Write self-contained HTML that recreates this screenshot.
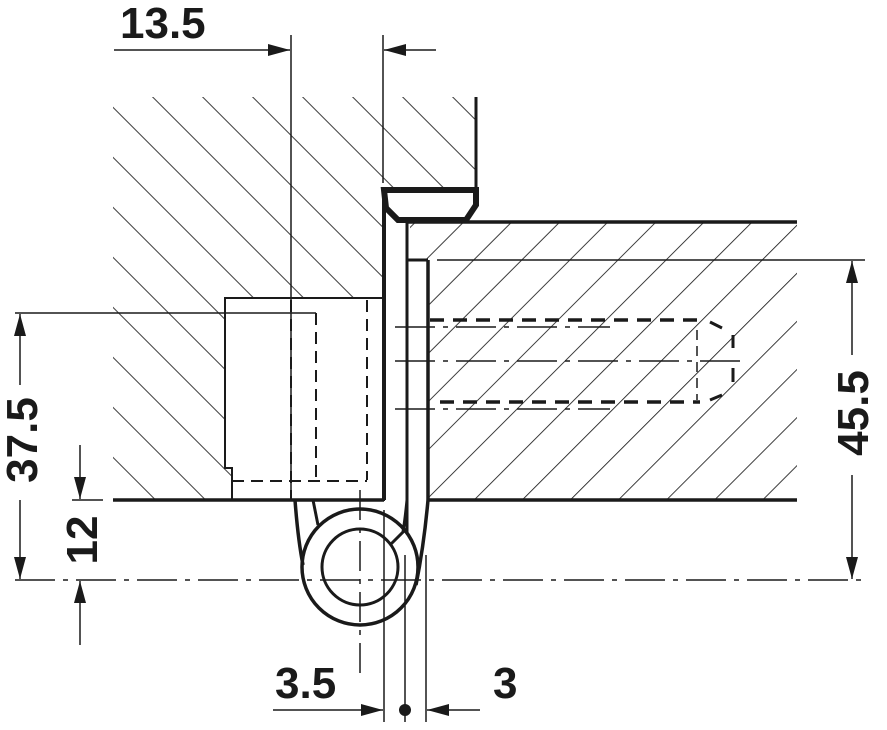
<!DOCTYPE html>
<html><head><meta charset="utf-8"><style>
html,body{margin:0;padding:0;background:#fff;}
svg{display:block;}
text{font-family:"Liberation Sans",sans-serif;font-weight:bold;fill:#1a1a1a;}
</style></head><body>
<svg width="887" height="730" viewBox="0 0 887 730" xmlns="http://www.w3.org/2000/svg">
<defs>
<pattern id="h1" patternUnits="userSpaceOnUse" width="35.36" height="35.36" patternTransform="translate(152,97) rotate(-45)">
<line x1="0" y1="0" x2="0" y2="35.36" stroke="#1a1a1a" stroke-width="1.7"/>
</pattern>
<pattern id="h2" patternUnits="userSpaceOnUse" width="34" height="34" patternTransform="translate(463,222) rotate(45)">
<line x1="0" y1="0" x2="0" y2="34" stroke="#1a1a1a" stroke-width="1.7"/>
</pattern>
<marker id="ar" markerWidth="22" markerHeight="12" refX="22" refY="6" orient="auto" markerUnits="userSpaceOnUse">
<path d="M0,0 L22,6 L0,12 Z" fill="#1a1a1a"/>
</marker>
</defs>
<g stroke="#1a1a1a" fill="none">
<polygon points="113,97 476,97 476,190 384,190 384,500 113,500" fill="url(#h1)" stroke="none"/>
<polygon points="410,222 797,222 797,500 428,500 428,260 410,260" fill="url(#h2)" stroke="none"/>
<polygon points="225,298 384,298 384,500 232,500 232,468 225,468" fill="#fff" stroke-width="2"/>
<rect x="407" y="260" width="21" height="240" fill="#fff" stroke="none"/>
<rect x="386" y="190" width="21" height="310" fill="#fff" stroke="none"/>
<line x1="476" y1="97" x2="476" y2="192" stroke-width="3"/>
<path d="M384,190 L476,190 L476,205 L466,220 L398,220 L386,208 Z" fill="#fff" stroke-width="6"/>
<line x1="384" y1="190" x2="384" y2="500" stroke-width="4"/>
<line x1="407" y1="220" x2="407" y2="560" stroke-width="3"/>
<line x1="428" y1="260" x2="428" y2="500" stroke-width="3.5"/>
<line x1="407" y1="260" x2="428" y2="260" stroke-width="3"/>
<line x1="407" y1="222" x2="797" y2="222" stroke-width="3.5"/>
<line x1="437" y1="260" x2="865" y2="260" stroke-width="1.5"/>
<line x1="113" y1="500" x2="384" y2="500" stroke-width="3.5"/>
<line x1="428" y1="500" x2="797" y2="500" stroke-width="3.5"/>
<g stroke-width="2" stroke-dasharray="12,7">
<line x1="291" y1="300" x2="291" y2="500"/>
<line x1="316" y1="313" x2="316" y2="480"/>
<line x1="367" y1="300" x2="367" y2="480"/>
<line x1="232" y1="481" x2="367" y2="481"/>
</g>
<line x1="15" y1="313" x2="316" y2="313" stroke-width="1.5"/>
<g stroke-width="3.5" stroke-dasharray="14,9">
<line x1="430" y1="320" x2="700" y2="320"/>
<line x1="440" y1="402" x2="700" y2="402"/>
</g>
<path d="M710,322 L722,328 M733,335 L733,348 M733,368 L733,382 M722,395 L710,400" stroke-width="3"/>
<line x1="697" y1="330" x2="697" y2="400" stroke-width="1.5" stroke-dasharray="10,6"/>
<g stroke-width="1.5" stroke-dasharray="40,8,5,8">
<line x1="395" y1="327" x2="610" y2="327"/>
<line x1="395" y1="361" x2="745" y2="361"/>
<line x1="395" y1="409" x2="610" y2="409"/>
</g>
<circle cx="360" cy="567" r="58" stroke-width="3.5" fill="#fff"/>
<circle cx="360" cy="567" r="38" stroke-width="3"/>
<path d="M295,500 Q298,540 303,565" stroke-width="3.5"/>
<path d="M428,500 Q424,545 416,585" stroke-width="3.5"/>
<path d="M313,500 L318,525" stroke-width="3"/>
<path d="M407,500 Q405,520 403,532 L390,545" stroke-width="3"/>
<line x1="15" y1="580" x2="865" y2="580" stroke-width="1.5" stroke-dasharray="40,8,5,8"/>
<line x1="360" y1="490" x2="360" y2="675" stroke-width="1.5" stroke-dasharray="30,8,5,8"/>
<line x1="291" y1="35" x2="291" y2="500" stroke-width="1.5"/>
<line x1="383" y1="35" x2="383" y2="183" stroke-width="1.5"/>
<line x1="114" y1="50" x2="290" y2="50" stroke-width="1.5" marker-end="url(#ar)"/>
<line x1="436" y1="50" x2="384" y2="50" stroke-width="1.5" marker-end="url(#ar)"/>
<line x1="20" y1="385" x2="20" y2="314" stroke-width="1.5" marker-end="url(#ar)"/>
<line x1="20" y1="500" x2="20" y2="579" stroke-width="1.5" marker-end="url(#ar)"/>
<line x1="72" y1="500" x2="103" y2="500" stroke-width="1.5"/>
<line x1="80" y1="445" x2="80" y2="499" stroke-width="1.5" marker-end="url(#ar)"/>
<line x1="80" y1="645" x2="80" y2="581" stroke-width="1.5" marker-end="url(#ar)"/>
<line x1="852" y1="355" x2="852" y2="261" stroke-width="1.5" marker-end="url(#ar)"/>
<line x1="852" y1="475" x2="852" y2="579" stroke-width="1.5" marker-end="url(#ar)"/>
<line x1="384" y1="510" x2="384" y2="722" stroke-width="1.5"/>
<line x1="405" y1="555" x2="405" y2="722" stroke-width="1.5"/>
<line x1="426" y1="555" x2="426" y2="722" stroke-width="1.5"/>
<line x1="273" y1="710" x2="383" y2="710" stroke-width="1.5" marker-end="url(#ar)"/>
<line x1="480" y1="710" x2="427" y2="710" stroke-width="1.5" marker-end="url(#ar)"/>
</g>
<circle cx="405" cy="710" r="6" fill="#1a1a1a"/>
<text x="120" y="38" font-size="44">13.5</text>
<text x="275" y="698" font-size="44">3.5</text>
<text x="493" y="698" font-size="44">3</text>
<text transform="translate(37,440) rotate(-90)" font-size="44" text-anchor="middle">37.5</text>
<text transform="translate(97,540) rotate(-90)" font-size="44" text-anchor="middle">12</text>
<text transform="translate(868,413) rotate(-90)" font-size="44" text-anchor="middle">45.5</text>
</svg>
</body></html>
